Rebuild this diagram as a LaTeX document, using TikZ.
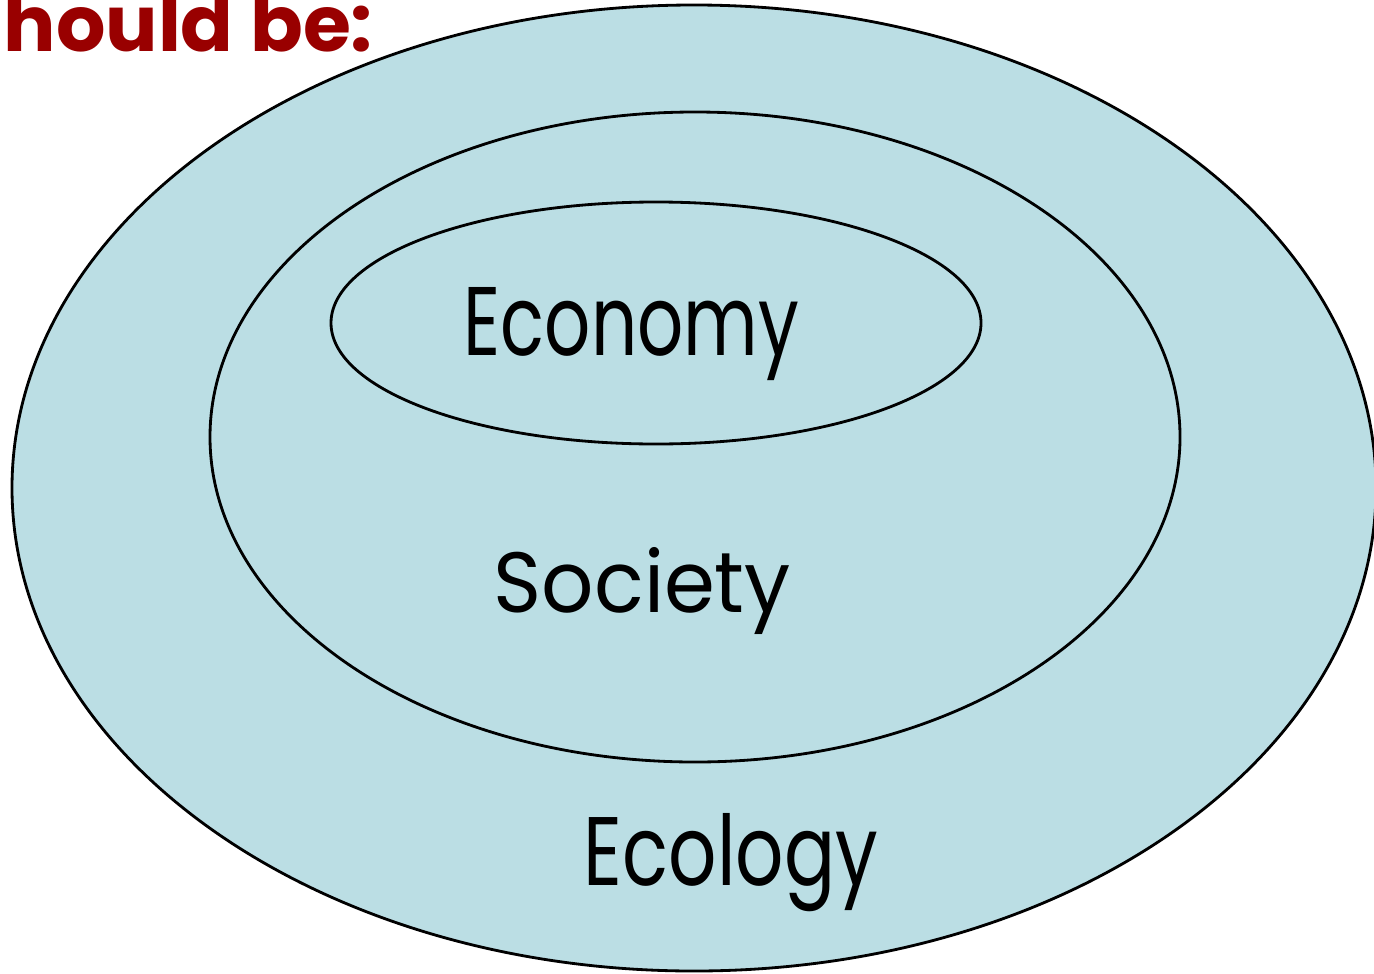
\documentclass[tikz,border=0pt]{standalone}
\usepackage{fontspec}
\setmainfont{Poppins}
\definecolor{eco}{RGB}{187,222,228}
\definecolor{dred}{RGB}{153,0,0}
\tikzset{
  ring/.style={draw=black, line width=0.8pt, fill=eco},
  lbl/.style={inner sep=0pt, anchor=base west, text=black},
}
\begin{document}
\begin{tikzpicture}[x=0.01cm,y=-0.01cm]
\useasboundingbox (0,0) rectangle (1374,973);
\clip (0,0) rectangle (1374,973);
\draw[ring] (694,488) ellipse [x radius=682, y radius=483];
\draw[ring] (695,437) ellipse [x radius=485, y radius=325];
\draw[ring] (656,323) ellipse [x radius=325, y radius=121];
\node[lbl] (economy) at (463,355) {\resizebox{3.35cm}{0.68cm}{Economy}};
\node[lbl] (society) at (493,612) {\resizebox{2.97cm}{0.65cm}{Society}};
\node[lbl] (ecology) at (583,885) {\resizebox{2.94cm}{0.72cm}{Ecology}};
\node[lbl, text=dred] (title) at (3,52) {\resizebox{3.69cm}{!}{\bfseries hould be:}};
\end{tikzpicture}
\end{document}
